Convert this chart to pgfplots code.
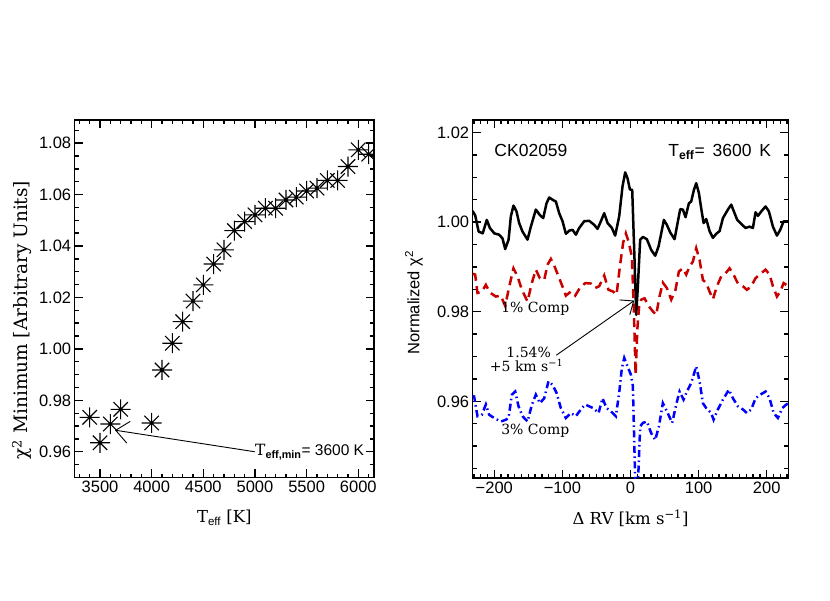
\documentclass[border=0pt]{standalone}
\usepackage{fontspec}
\setmainfont{Liberation Sans}
\newfontfamily\serif{DejaVu Serif}
\usepackage{pgfplots}
\pgfplotsset{compat=1.18}
\usetikzlibrary{arrows.meta}
\definecolor{cred}{RGB}{200,0,0}
\definecolor{cblue}{RGB}{0,0,255}
\tikzset{tk/.style={line width=1.4pt, black}}
\pgfdeclareplotmark{ast8}{%
  \pgfpathmoveto{\pgfqpoint{-\pgfplotmarksize}{0pt}}\pgfpathlineto{\pgfqpoint{\pgfplotmarksize}{0pt}}%
  \pgfpathmoveto{\pgfqpoint{0pt}{-\pgfplotmarksize}}\pgfpathlineto{\pgfqpoint{0pt}{\pgfplotmarksize}}%
  \pgfpathmoveto{\pgfqpoint{-0.72\pgfplotmarksize}{-0.72\pgfplotmarksize}}\pgfpathlineto{\pgfqpoint{0.72\pgfplotmarksize}{0.72\pgfplotmarksize}}%
  \pgfpathmoveto{\pgfqpoint{-0.72\pgfplotmarksize}{0.72\pgfplotmarksize}}\pgfpathlineto{\pgfqpoint{0.72\pgfplotmarksize}{-0.72\pgfplotmarksize}}%
  \pgfusepathqstroke
  \pgfpathcircle{\pgfpointorigin}{1.6pt}\pgfusepathqfill
}
\pgfplotsset{
  idl/.style={
    scale only axis,
    axis line style={line width=1.4pt},
    tick align=inside,
    major tick length=0pt,
    minor tick length=0pt,
    tick label style={font=\fontsize{16.5}{16.5}\selectfont},
    /pgf/number format/assume math mode=true,
  }
}
\begin{document}
\begin{tikzpicture}
\path[use as bounding box] (0pt,0pt) rectangle (830pt,600pt);
% ---------------- left panel ----------------
\begin{axis}[idl,
  at={(74.7pt,122.5pt)}, anchor=south west,
  width=299.3pt, height=357.5pt,
  xmin=3255, xmax=6152, ymin=0.95, ymax=1.089,
  xtick={3500,4000,4500,5000,5500,6000},
  xticklabels={3500,4000,4500,5000,5500,6000},
  ytick={0.96,0.98,1.00,1.02,1.04,1.06,1.08},
  yticklabels={0.96,0.98,1.00,1.02,1.04,1.06,1.08},
  clip marker paths=true,
  every axis x label/.style={at={(axis description cs:0.5,-0.113)},anchor=center,font=\serif\fontsize{16.5}{18}\selectfont},
  every axis y label/.style={at={(axis description cs:-0.176,0.44)},rotate=90,anchor=center,font=\serif\fontsize{18.5}{20}\selectfont},
  xlabel={T\textsubscript{\rmfamily eff} [K]},
  ylabel={χ\textsuperscript{2} Minimum [Arbitrary Units]},
]
\pgfplotsinvokeforeach{3500,4000,4500,5000,5500,6000}{
  \draw[tk] (axis cs:#1,0.95) -- ++(0pt,8pt);
  \draw[tk] (axis cs:#1,1.089) -- ++(0pt,-8pt);
}
\pgfplotsinvokeforeach{3300,3400,3600,3700,3800,3900,4100,4200,4300,4400,4600,4700,4800,4900,5100,5200,5300,5400,5600,5700,5800,5900,6100}{
  \draw[tk] (axis cs:#1,0.95) -- ++(0pt,4pt);
  \draw[tk] (axis cs:#1,1.089) -- ++(0pt,-4pt);
}
\pgfplotsinvokeforeach{0.96,0.98,1.00,1.02,1.04,1.06,1.08}{
  \draw[tk] (axis cs:3255,#1) -- ++(8pt,0pt);
  \draw[tk] (axis cs:6152,#1) -- ++(-8pt,0pt);
}
\pgfplotsinvokeforeach{0.955,0.965,0.97,0.975,0.985,0.99,0.995,1.005,1.01,1.015,1.025,1.03,1.035,1.045,1.05,1.055,1.065,1.07,1.075,1.085}{
  \draw[tk] (axis cs:3255,#1) -- ++(4pt,0pt);
  \draw[tk] (axis cs:6152,#1) -- ++(-4pt,0pt);
}
\addplot[only marks, mark=ast8, mark size=10pt, mark options={line width=1.1pt, black}] table {
3300 0.949
3400 0.9734
3500 0.9635
3600 0.9708
3700 0.9765
4000 0.9712
4100 0.9918
4200 1.0022
4300 1.0106
4400 1.0186
4500 1.0249
4600 1.0330
4700 1.0385
4800 1.0460
4900 1.0495
5000 1.0521
5100 1.0547
5200 1.0547
5300 1.0579
5400 1.0590
5500 1.0614
5600 1.0625
5700 1.0655
5800 1.0655
5900 1.0709
6000 1.0774
6100 1.0757
};
\draw[line width=0.9pt, -{Straight Barb[length=13pt,width=22pt,line width=0.9pt]}] (axis cs:5000,0.96) -- (axis cs:3645,0.9684);
\node[anchor=west, inner sep=0pt, font=\fontsize{15.5}{15.5}\selectfont] at (axis cs:5000,0.96) {{\serif T}\textsubscript{\bfseries eff,min}= 3600 K};
\end{axis}
% ---------------- right panel ----------------
\begin{axis}[idl,
  at={(472.7pt,122pt)}, anchor=south west,
  width=315.6pt, height=358pt,
  xmin=-231.7, xmax=231.7, ymin=0.9429, ymax=1.0228,
  xtick={-200,-100,0,100,200},
  xticklabels={−200,−100,0,100,200},
  ytick={0.96,0.98,1.00,1.02},
  yticklabels={0.96,0.98,1.00,1.02},
  every axis x label/.style={at={(axis description cs:0.5,-0.112)},anchor=center,font=\serif\fontsize{16.5}{18}\selectfont},
  every axis y label/.style={at={(axis description cs:-0.186,0.49)},rotate=90,anchor=center,font=\fontsize{16.5}{18}\selectfont},
  xlabel={Δ RV [km s\textsuperscript{−1}]},
  ylabel={Normalized χ\textsuperscript{2}},
]
\pgfplotsinvokeforeach{-200,-100,0,100,200}{
  \draw[tk] (axis cs:#1,0.9429) -- ++(0pt,8pt);
  \draw[tk] (axis cs:#1,1.0228) -- ++(0pt,-8pt);
}
\pgfplotsinvokeforeach{-230,-220,-210,-190,-180,-170,-160,-150,-140,-130,-120,-110,-90,-80,-70,-60,-50,-40,-30,-20,-10,10,20,30,40,50,60,70,80,90,110,120,130,140,150,160,170,180,190,210,220,230}{
  \draw[tk] (axis cs:#1,0.9429) -- ++(0pt,4pt);
  \draw[tk] (axis cs:#1,1.0228) -- ++(0pt,-4pt);
}
\pgfplotsinvokeforeach{0.96,0.98,1.00,1.02}{
  \draw[tk] (axis cs:-231.7,#1) -- ++(8pt,0pt);
  \draw[tk] (axis cs:231.7,#1) -- ++(-8pt,0pt);
}
\pgfplotsinvokeforeach{0.945,0.95,0.955,0.965,0.97,0.975,0.985,0.99,0.995,1.005,1.01,1.015}{
  \draw[tk] (axis cs:-231.7,#1) -- ++(4pt,0pt);
  \draw[tk] (axis cs:231.7,#1) -- ++(-4pt,0pt);
}
\addplot[black, line width=2.5pt, line join=round] table {
-232 1.0025
-228 1.0015
-223 0.9979
-217 0.9975
-211 1.0005
-206.5 0.9987
-200 0.9975
-193 0.9972
-188 0.9964
-184 0.9940
-179 0.9961
-175.7 1.0013
-171.8 1.0037
-167.4 1.0024
-163.5 0.9998
-158.6 0.9979
-151.2 0.9961
-146.3 0.9990
-139 1.0028
-133.1 1.0016
-128.2 1.0009
-123.3 1.0042
-119.4 1.0055
-114.5 1.0050
-109.6 1.0046
-104.7 1.0020
-99.8 1.0002
-94.9 0.9974
-90 0.9981
-85.1 0.9983
-80.2 0.9972
-75.3 0.9987
-68 1.0002
-60.7 1.0003
-53.3 0.9994
-48.4 0.9985
-43.5 1.0002
-38.6 1.0020
-33.7 0.9998
-27.3 0.9987
-22.5 0.9970
-16.6 1.0013
-11.7 1.0080
-7.8 1.0111
-4.4 1.0098
-0.9 1.0073
2.5 1.0072
5.9 0.9916
8.4 0.9793
10.8 0.9857
14.2 0.9961
18.2 0.9967
24.0 0.9962
30.4 0.9938
36.3 0.9925
41.2 0.9946
45.1 0.9975
49.0 1.0005
53.4 0.9994
58.3 0.9977
64.7 0.9962
69.6 1.0002
73.0 1.0029
76.9 1.0028
80.8 1.0011
85.7 1.0042
89.1 1.0046
93.1 1.0072
96.5 1.0087
100.4 1.0065
103.8 1.0031
107.3 0.9998
111.2 1.0007
116.1 0.9980
121 0.9965
125.9 0.9974
130.8 0.9980
135.7 1.0009
143 1.0028
147.9 1.0039
152.8 1.0020
156.7 1.0005
162.6 0.9996
169 0.9987
174.8 0.9990
179.7 0.9987
183.6 1.0022
187.1 1.0014
192 1.0024
198.3 1.0035
203.2 1.0024
209.1 0.9990
215 0.9970
219.9 0.9983
224.8 1.0002
232 1.0002
};
\addplot[cred, line width=2.5pt, dash pattern=on 9pt off 5.5pt] table {
-232 0.9885
-228.1 0.9883
-224.7 0.9842
-218.3 0.9845
-212.4 0.9860
-206.5 0.9843
-197.7 0.9834
-190.4 0.9836
-184 0.9813
-178.1 0.9856
-171.8 0.9897
-165.9 0.9879
-159.5 0.9849
-151.2 0.9823
-144.9 0.9864
-139 0.9894
-133.1 0.9875
-126.7 0.9871
-121.8 0.9905
-116.9 0.9918
-112 0.9903
-105.7 0.9879
-99.8 0.9856
-94.9 0.9836
-87.6 0.9845
-81.2 0.9836
-74.4 0.9853
-66.5 0.9864
-58.2 0.9863
-51.8 0.9853
-46 0.9857
-38.6 0.9881
-32.3 0.9849
-25.4 0.9845
-20.5 0.9838
-15.6 0.9901
-10.7 0.9955
-6.8 0.9975
-2.9 0.9957
2 0.9923
5 0.9800
7.5 0.9660
10 0.9760
13 0.9820
15.7 0.9827
20.6 0.9830
27 0.9812
32.8 0.9801
37.7 0.9793
42.6 0.9834
47.5 0.9865
53.4 0.9853
59.8 0.9827
66.1 0.9849
71 0.9890
76.9 0.9897
81.8 0.9883
86.7 0.9901
91.6 0.9912
96.5 0.9942
101.4 0.9916
106.3 0.9871
111.2 0.9864
116.1 0.9845
121 0.9828
126.9 0.9857
133.2 0.9879
139.6 0.9886
145.5 0.9897
151.3 0.9883
157.7 0.9863
165 0.9857
170.9 0.9849
177.3 0.9857
183.6 0.9875
189.5 0.9883
198.3 0.9894
204.2 0.9883
209.1 0.9857
215 0.9834
219.9 0.9845
224.8 0.9864
232 0.9857
};
\addplot[cblue, line width=2.5pt, dash pattern=on 7pt off 3.5pt on 1.5pt off 3.5pt] table {
-232 0.9612
-229.6 0.9611
-224.7 0.9567
-218.3 0.9570
-212.4 0.9593
-207.5 0.9570
-200.2 0.9563
-190.4 0.9555
-183.0 0.9559
-179.1 0.9563
-174.2 0.9615
-169.3 0.9622
-164.4 0.9589
-158.6 0.9567
-151.2 0.9555
-144.9 0.9592
-139 0.9615
-133.1 0.9596
-126.7 0.9607
-120.4 0.9645
-114.5 0.9637
-108.6 0.9619
-102.3 0.9585
-94.9 0.9563
-87.6 0.9574
-80.2 0.9567
-72.9 0.9582
-66.5 0.9593
-60.7 0.9589
-54.8 0.9585
-46.9 0.9574
-41.1 0.9607
-35.2 0.9585
-28.8 0.9578
-21.5 0.9567
-16.6 0.9619
-12.7 0.9674
-9.2 0.9697
-4.4 0.9678
0.5 0.9660
3.5 0.9634
5.9 0.9485
8.0 0.9350
10.5 0.9400
12.3 0.9470
14.2 0.9544
18.2 0.9552
24.0 0.9555
30.4 0.9529
36.3 0.9514
41.7 0.9544
47.5 0.9596
53.4 0.9578
61.2 0.9552
67.1 0.9593
72 0.9622
77.9 0.9604
82.8 0.9622
89.1 0.9641
96.5 0.9678
101.4 0.9645
106.3 0.9596
111.2 0.9585
118.5 0.9574
122 0.9559
128.3 0.9582
135.7 0.9604
144.5 0.9626
150.4 0.9607
157.7 0.9589
165 0.9582
170.9 0.9574
177.3 0.9582
183.6 0.9607
190.5 0.9615
198.3 0.9622
204.2 0.9607
210.1 0.9574
216.4 0.9563
222.8 0.9585
228.7 0.9593
232 0.9596
};
\node[anchor=base west, font=\fontsize{17.5}{17.5}\selectfont, inner sep=0pt] at (axis cs:-200,1.01465) {CK02059};
\node[anchor=base east, font=\fontsize{17.5}{17.5}\selectfont, inner sep=0pt] at (axis cs:206.7,1.01465) {T\textsubscript{\bfseries eff}=\hspace{3pt} 3600\hspace{3pt} K};
\node[anchor=base west, font=\serif\fontsize{14}{14}\selectfont, inner sep=0pt] at (axis cs:-190,0.9798) {1\% Comp};
\node[anchor=base west, font=\serif\fontsize{14}{14}\selectfont, inner sep=0pt] at (axis cs:-190,0.95257) {3\% Comp};
\node[anchor=base, font=\serif\fontsize{14}{14}\selectfont, inner sep=0pt] at (axis cs:-149.5,0.96974) {1.54\%};
\node[anchor=base, font=\serif\fontsize{14}{14}\selectfont, inner sep=0pt] at (axis cs:-152.5,0.96662) {+5 km s\textsuperscript{−1}};
\draw[line width=0.9pt, -{Straight Barb[length=11pt,width=18pt,line width=0.9pt]}] (axis cs:-109,0.9703) -- (axis cs:5.5,0.9825);
\end{axis}
\end{tikzpicture}
\end{document}
